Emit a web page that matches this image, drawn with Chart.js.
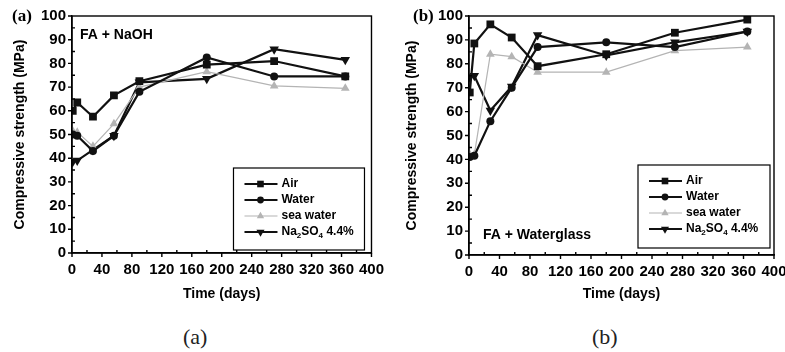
<!DOCTYPE html>
<html>
<head>
<meta charset="utf-8">
<script src="https://cdn.jsdelivr.net/npm/chart.js@4.4.0/dist/chart.umd.min.js"></script>
<style>
  body { margin: 0; background: #fff; width: 785px; height: 352px; position: relative; overflow: hidden; }
  .panel { position: absolute; top: 0; }
  .cap { position: absolute; top: 324px; font: 22px "Liberation Serif", "DejaVu Serif", serif; color: #222; }
</style>
</head>
<body>
<div class="panel" style="left:0"><canvas id="ca" width="392" height="310"></canvas></div>
<div class="panel" style="left:392px"><canvas id="cb" width="410" height="310"></canvas></div>
<div class="cap" style="left:183px">(a)</div>
<div class="cap" style="left:592px">(b)</div>

<script>
// ages (days) at which strength was measured
const days = [1, 7, 28, 56, 90, 180, 270, 365];
const seriesNames = ["Air", "Water", "sea water", "Na2SO4 4.4%"];

// (a) FA + NaOH
const airA   = [60, 63.5, 57.5, 66.5, 72.5, 79.5, 81, 74.5];
const waterA = [50, 49.5, 43, 49.5, 68, 82.5, 74.5, 74.5];
const seaA   = [51.5, 51, 45, 54.5, 70, 76.5, 70.5, 69.5];
const naA    = [38.5, 39, 43.5, 49.5, 72, 73.5, 86, 81.5];

// (b) FA + Waterglass
const airB   = [68, 88.5, 96.5, 91, 79, 84, 93, 98.5];
const waterB = [41, 41.5, 56, 70, 87, 89, 87, 93.5];
const seaB   = [42, 42, 84, 83, 76.5, 76.5, 85.5, 87];
const naB    = [74.5, 75, 60.5, 70.5, 92, 83.5, 89, 93.5];

const FONT = '"Liberation Sans", Arial, sans-serif';
const styles = [
  { color: "#111", pointStyle: "rect", radius: 5.5, rotation: 0, width: 2.2 },
  { color: "#111", pointStyle: "circle", radius: 4, rotation: 0, width: 2.2 },
  { color: "#b4b4b4", pointStyle: "triangle", radius: 5, rotation: 0, width: 1.2 },
  { color: "#111", pointStyle: "triangle", radius: 5.5, rotation: 180, width: 2.2 }
];

function makeSets(values) {
  return values.map((vals, i) => ({
    label: seriesNames[i],
    data: days.map((d, j) => ({ x: d, y: vals[j] })),
    borderColor: styles[i].color,
    backgroundColor: styles[i].color,
    borderWidth: styles[i].width,
    pointStyle: styles[i].pointStyle,
    pointRotation: styles[i].rotation,
    pointRadius: styles[i].radius,
    pointBorderWidth: 0,
    tension: 0
  }));
}

// frame, minor ticks, inner legend and the labels
const deco = {
  id: "deco",
  afterDraw(chart, args, o) {
    const { ctx, chartArea: a } = chart;
    const x = chart.scales.x, y = chart.scales.y;
    ctx.save();
    ctx.strokeStyle = "#000";
    ctx.lineWidth = 1.4;
    ctx.strokeRect(a.left, a.top, a.right - a.left, a.bottom - a.top);
    ctx.beginPath();
    for (let v = 0; v <= 400; v += 20) {
      const px = x.getPixelForValue(v);
      ctx.moveTo(px, a.bottom);
      ctx.lineTo(px, v % 40 === 0 ? a.bottom + 4 : a.bottom - 3);
    }
    for (let v = 0; v <= 100; v += 5) {
      const py = y.getPixelForValue(v);
      ctx.moveTo(a.left, py);
      ctx.lineTo(v % 10 === 0 ? a.left - 4 : a.left + 3, py);
    }
    ctx.stroke();

    ctx.fillStyle = "#000";
    ctx.textBaseline = "middle";
    ctx.textAlign = "left";
    ctx.font = "bold 14px " + FONT;
    ctx.fillText(o.note, a.left + o.noteX, a.top + o.noteY);
    ctx.font = 'bold 17px "Liberation Serif", serif';
    ctx.fillText(o.tag, o.tagX, a.top + 1);

    // legend box
    const bx = a.right - o.legR - o.legW, by = a.bottom - o.legB - o.legH;
    ctx.lineWidth = 1.2;
    ctx.strokeRect(bx, by, o.legW, o.legH);
    chart.data.datasets.forEach((ds, i) => {
      const ly = by + 16 + i * 16;
      const lx = bx + 11;
      ctx.strokeStyle = ds.borderColor;
      ctx.fillStyle = ds.backgroundColor;
      ctx.lineWidth = ds.borderWidth;
      ctx.beginPath();
      ctx.moveTo(lx, ly);
      ctx.lineTo(lx + 33, ly);
      ctx.stroke();
      Chart.helpers.drawPoint(ctx, { pointStyle: ds.pointStyle, radius: ds.pointRadius * 0.85, rotation: ds.pointRotation, borderWidth: 0 }, lx + 16, ly);
      ctx.fillStyle = "#000";
      let tx = lx + 37;
      ctx.font = "bold 12px " + FONT;
      if (i === 3) {
        const parts = [["Na", 0], ["2", 1], ["SO", 0], ["4", 1], [" 4.4%", 0]];
        parts.forEach(([t, sub]) => {
          ctx.font = (sub ? "bold 8px " : "bold 12px ") + FONT;
          ctx.fillText(t, tx, ly + (sub ? 4 : 0));
          tx += ctx.measureText(t).width;
        });
      } else {
        ctx.fillText(ds.label, tx, ly);
      }
    });
    ctx.restore();
  }
};

function makeChart(id, values, pad, xH, yW, deco) {
  new Chart(document.getElementById(id), {
    type: "line",
    data: { datasets: makeSets(values) },
    plugins: [deco],
    options: {
      responsive: false,
      animation: false,
      layout: { padding: pad },
      plugins: { legend: { display: false }, tooltip: { enabled: false }, deco: decoOpts[id] },
      scales: {
        x: {
          type: "linear", min: 0, max: 400,
          afterFit: (s) => { s.height = xH; },
          grid: { display: false, drawTicks: false },
          border: { display: true, color: "#000", width: 1.4 },
          ticks: { stepSize: 40, autoSkip: false, maxRotation: 0, padding: 8, color: "#000", font: { family: FONT, size: 15, weight: "bold" } },
          title: { display: true, text: "Time (days)", color: "#000", padding: { top: 0, bottom: 7 }, font: { family: FONT, size: 14, weight: "bold" } }
        },
        y: {
          min: 0, max: 100,
          afterFit: (s) => { s.width = yW; },
          grid: { display: false, drawTicks: false },
          border: { display: true, color: "#000", width: 1.4 },
          ticks: { stepSize: 10, padding: 6, color: "#000", font: { family: FONT, size: 15, weight: "bold" } },
          title: { display: true, text: "Compressive strength (MPa)", color: "#000", padding: { top: 12, bottom: 0 }, font: { family: FONT, size: 14, weight: "bold" } }
        }
      }
    }
  });
}

const decoOpts = {
  ca: { note: "FA + NaOH", noteX: 8, noteY: 19, tag: "(a)", tagX: 12, legW: 131, legH: 82, legR: 7, legB: 3 },
  cb: { note: "FA + Waterglass", noteX: 14, noteY: 219, tag: "(b)", tagX: 21, legW: 132, legH: 83, legR: 4, legB: 7 }
};

makeChart("ca", [airA, waterA, seaA, naA], { left: 0, top: 16, right: 17, bottom: 0 }, 57, 72, deco);
makeChart("cb", [airB, waterB, seaB, naB], { left: 0, top: 16, right: 28, bottom: 0 }, 55, 77, deco);
</script>
</body>
</html>
